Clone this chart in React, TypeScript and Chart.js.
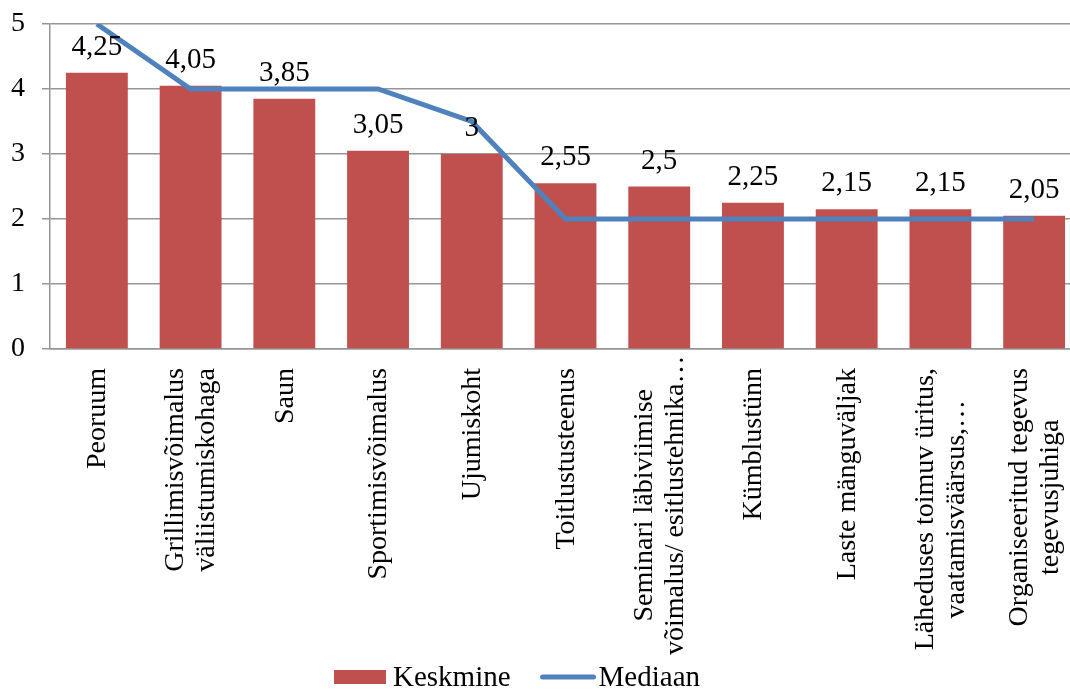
import { useEffect, useRef } from "react";
import { Chart, registerables } from "chart.js";

Chart.register(...registerables);

const categories: string[][] = [
  ["Peoruum"],
  ["Grillimisvõimalus", "väliistumiskohaga"],
  ["Saun"],
  ["Sportimisvõimalus"],
  ["Ujumiskoht"],
  ["Toitlustusteenus"],
  ["Seminari läbiviimise", "võimalus/ esitlustehnika…"],
  ["Kümblustünn"],
  ["Laste mänguväljak"],
  ["Läheduses toimuv üritus,", "vaatamisväärsus,…"],
  ["Organiseeritud tegevus", "tegevusjuhiga"],
];

const keskmine = [4.25, 4.05, 3.85, 3.05, 3, 2.55, 2.5, 2.25, 2.15, 2.15, 2.05];
const mediaan = [5, 4, 4, 4, 3.5, 2, 2, 2, 2, 2, 2];

const yMin = 0;
const yMax = 5;
const yStep = 1;

const FONT = "'Liberation Serif', 'Times New Roman', serif";
const RED = "#C0504D";
const BLUE = "#4F81BD";
const GRID = "#969696";

// the plot runs slightly past the right edge of the page and is clipped
const CANVAS_W = 1081;
const CANVAS_H = 689;
const PLOT_TOP = 24;
const PLOT_BOTTOM = 349;
const Y_AXIS_W = 50;
const TEXT_SIZE = 29;
const CAT_SIZE = 28;
const LABEL_LINE_H = 31;
const LABEL_GAP = 19;
const LABEL_MAX_BOTTOM = 655;
const LEGEND_CENTER_X = 517;
const LEGEND_Y = 677;

const fmt = (v: number) => String(v).replace(".", ",");

// value labels above the bars
const valueLabels = {
  id: "valueLabels",
  afterDatasetsDraw(chart: any) {
    const idx = chart.data.datasets.findIndex((d: any) => d.type === "bar");
    const meta = chart.getDatasetMeta(idx);
    const ctx = chart.ctx;
    ctx.save();
    ctx.font = `${TEXT_SIZE}px ${FONT}`;
    ctx.fillStyle = "#000";
    ctx.textAlign = "center";
    ctx.textBaseline = "alphabetic";
    meta.data.forEach((bar: any, i: number) => {
      ctx.fillText(fmt(keskmine[i]), bar.x, bar.y - 18);
    });
    ctx.restore();
  },
};

// vertical category labels: lines centred on each other, the block hangs
// from the axis and is pushed upwards if it would run into the legend
const categoryLabels = {
  id: "categoryLabels",
  afterDraw(chart: any) {
    const xScale = chart.scales.x;
    const ctx = chart.ctx;
    ctx.save();
    ctx.font = `${CAT_SIZE}px ${FONT}`;
    ctx.fillStyle = "#000";
    ctx.textAlign = "center";
    ctx.textBaseline = "middle";
    const top = chart.chartArea.bottom + LABEL_GAP;
    categories.forEach((lines, i) => {
      const x = xScale.getPixelForTick(i);
      const longest = Math.max(...lines.map((l) => ctx.measureText(l).width));
      const shift = Math.max(0, top + longest - LABEL_MAX_BOTTOM);
      const mid = top - shift + longest / 2;
      ctx.save();
      ctx.translate(x, mid);
      ctx.rotate(-Math.PI / 2);
      lines.forEach((line, j) => {
        ctx.fillText(line, 0, (j - (lines.length - 1) / 2) * LABEL_LINE_H + 1);
      });
      ctx.restore();
    });
    ctx.restore();
  },
};

// legend: red swatch for the bars, blue stroke for the line
const legendRow = {
  id: "legendRow",
  afterDraw(chart: any) {
    const ctx = chart.ctx;
    const bar = chart.data.datasets.find((d: any) => d.type === "bar");
    const line = chart.data.datasets.find((d: any) => d.type === "line");
    ctx.save();
    ctx.font = `${TEXT_SIZE}px ${FONT}`;
    ctx.textBaseline = "middle";
    ctx.textAlign = "left";
    const swatchW = 52;
    const lineW = 55;
    const w1 = ctx.measureText(bar.label).width;
    const w2 = ctx.measureText(line.label).width;
    const total = swatchW + 7 + w1 + 30 + lineW + 3 + w2;
    let x = LEGEND_CENTER_X - total / 2;
    const y = LEGEND_Y;
    ctx.fillStyle = bar.backgroundColor;
    ctx.fillRect(x, y - 7, swatchW, 14);
    x += swatchW + 7;
    ctx.fillStyle = "#000";
    ctx.fillText(bar.label, x, y + 1);
    x += w1 + 30;
    ctx.strokeStyle = line.borderColor;
    ctx.lineWidth = 5;
    ctx.lineCap = "round";
    ctx.beginPath();
    ctx.moveTo(x + 2, y);
    ctx.lineTo(x + lineW - 2, y);
    ctx.stroke();
    x += lineW + 3;
    ctx.fillStyle = "#000";
    ctx.fillText(line.label, x, y + 1);
    ctx.restore();
  },
};

export default function App() {
  const canvasRef = useRef<HTMLCanvasElement | null>(null);

  useEffect(() => {
    if (!canvasRef.current) return;
    const chart = new Chart(canvasRef.current, {
      type: "bar",
      data: {
        labels: categories.map((l) => l.join(" ")),
        datasets: [
          {
            type: "bar",
            label: "Keskmine",
            data: keskmine,
            backgroundColor: RED,
            borderWidth: 0,
            barPercentage: 0.66,
            categoryPercentage: 1,
            order: 1,
          },
          {
            type: "line",
            label: "Mediaan",
            data: mediaan,
            borderColor: BLUE,
            backgroundColor: BLUE,
            borderWidth: 5,
            pointRadius: 0,
            tension: 0,
            fill: false,
            order: 0,
          } as any,
        ],
      },
      options: {
        responsive: false,
        animation: false,
        devicePixelRatio: 1,
        layout: { padding: { top: PLOT_TOP, left: 0, right: 0, bottom: 0 } },
        plugins: {
          tooltip: { enabled: false },
          legend: { display: false },
        },
        scales: {
          x: {
            grid: { display: false },
            border: { display: true, color: GRID, width: 1.5 },
            ticks: { display: false },
            afterFit: (scale: any) => {
              scale.height = CANVAS_H - PLOT_BOTTOM;
              scale.paddingLeft = 0;
              scale.paddingRight = 0;
            },
          },
          y: {
            min: yMin,
            max: yMax,
            grid: { color: GRID, lineWidth: 1.5, tickLength: 8 },
            border: { display: true, color: GRID, width: 1.5 },
            ticks: {
              stepSize: yStep,
              color: "#000",
              padding: 17,
              font: { family: FONT, size: 28 },
            },
            afterFit: (scale: any) => {
              scale.width = Y_AXIS_W;
              scale.paddingTop = 0;
              scale.paddingBottom = 0;
            },
          },
        },
      },
      plugins: [valueLabels, categoryLabels, legendRow],
    });
    return () => chart.destroy();
  }, []);

  return (
    <div
      style={{
        position: "absolute",
        left: 0,
        top: 0,
        width: 1070,
        height: 689,
        overflow: "hidden",
        background: "#fff",
      }}
    >
      <canvas
        ref={canvasRef}
        width={CANVAS_W}
        height={CANVAS_H}
        style={{ position: "absolute", left: 0, top: 0, width: CANVAS_W, height: CANVAS_H }}
      />
    </div>
  );
}
